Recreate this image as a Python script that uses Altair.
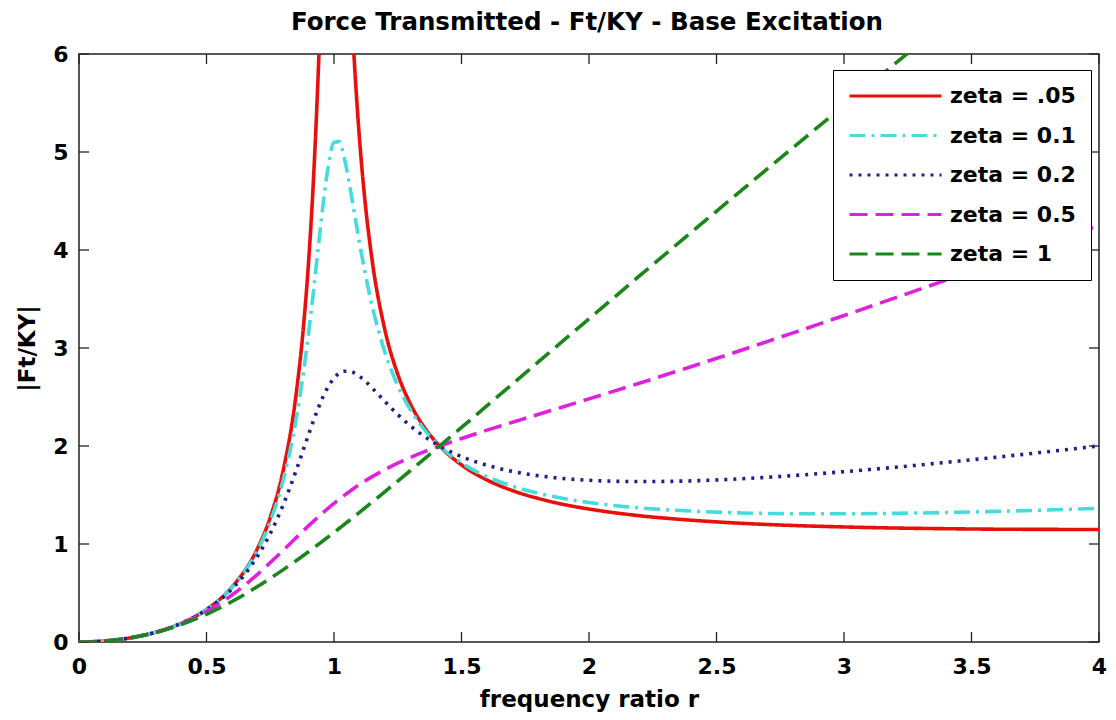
import altair as alt
import pandas as pd

# frequency ratio r (sample points)
R = [0, 0.1, 0.2, 0.3, 0.4, 0.5, 0.6, 0.7, 0.75, 0.8, 0.85, 0.88, 0.9, 0.92, 0.94,
     0.96, 0.98, 1.0, 1.02, 1.04, 1.06, 1.08, 1.1, 1.12, 1.15, 1.2, 1.25, 1.3, 1.35,
     1.4, 1.5, 1.6, 1.7, 1.8, 1.9, 2.0, 2.2, 2.4, 2.6, 2.8, 3.0, 3.2, 3.4, 3.6, 3.8, 4.0]

Z05 = [0, 0.010, 0.042, 0.099, 0.190, 0.333, 0.561, 0.954, 1.271, 1.741, 2.498, 3.210,
       3.868, 4.747, 5.932, 7.470, 9.130, 10.050, 9.533, 8.226, 6.939, 5.914, 5.135,
       4.541, 3.888, 3.180, 2.733, 2.427, 2.206, 2.040, 1.807, 1.653, 1.545, 1.465,
       1.404, 1.357, 1.288, 1.243, 1.211, 1.189, 1.174, 1.163, 1.156, 1.151, 1.149, 1.148]
Z10 = [0, 0.010, 0.042, 0.099, 0.190, 0.332, 0.557, 0.936, 1.230, 1.645, 2.252, 2.748,
       3.145, 3.591, 4.066, 4.525, 4.894, 5.099, 5.106, 4.944, 4.680, 4.376, 4.074,
       3.792, 3.426, 2.955, 2.616, 2.368, 2.181, 2.035, 1.827, 1.688, 1.590, 1.518,
       1.464, 1.423, 1.368, 1.336, 1.317, 1.309, 1.308, 1.313, 1.321, 1.333, 1.347, 1.364]
Z20 = [0, 0.010, 0.042, 0.099, 0.189, 0.328, 0.542, 0.875, 1.107, 1.395, 1.739, 1.964,
       2.115, 2.262, 2.398, 2.519, 2.618, 2.693, 2.741, 2.763, 2.763, 2.745, 2.711,
       2.668, 2.591, 2.453, 2.321, 2.205, 2.105, 2.021, 1.892, 1.803, 1.740, 1.697,
       1.668, 1.650, 1.637, 1.644, 1.666, 1.698, 1.738, 1.783, 1.833, 1.886, 1.942, 2.001]
Z50 = [0, 0.010, 0.042, 0.098, 0.185, 0.310, 0.479, 0.691, 0.810, 0.934, 1.060, 1.136,
       1.185, 1.233, 1.280, 1.326, 1.371, 1.414, 1.456, 1.496, 1.534, 1.571, 1.606,
       1.640, 1.687, 1.760, 1.825, 1.883, 1.937, 1.986, 2.077, 2.162, 2.242, 2.322,
       2.401, 2.481, 2.643, 2.809, 2.980, 3.154, 3.331, 3.511, 3.693, 3.877, 4.063, 4.250]
Z100 = [0, 0.010, 0.041, 0.096, 0.177, 0.283, 0.413, 0.566, 0.649, 0.736, 0.827, 0.883,
        0.921, 0.960, 0.999, 1.038, 1.078, 1.118, 1.158, 1.199, 1.240, 1.282, 1.323,
        1.365, 1.428, 1.534, 1.642, 1.750, 1.859, 1.969, 2.189, 2.411, 2.633, 2.855,
        3.077, 3.298, 3.740, 4.178, 4.613, 5.045, 5.474, 5.901, 6.326, 6.748, 7.169, 7.588]

SERIES = ["zeta = .05", "zeta = 0.1", "zeta = 0.2", "zeta = 0.5", "zeta = 1"]
VALUES = [Z05, Z10, Z20, Z50, Z100]
COLORS = ["#e8100a", "#45dcdc", "#20208c", "#e020e0", "#1b861b"]
DASHES = [[1, 0], [16, 6, 3, 6], [3, 6], [18, 8], [18, 8]]
XTICKS = [0, 0.5, 1, 1.5, 2, 2.5, 3, 3.5, 4]
YTICKS = [0, 1, 2, 3, 4, 5, 6]
TITLE = "Force Transmitted - Ft/KY - Base Excitation"

rows = []
for name, vals in zip(SERIES, VALUES):
    for r, t in zip(R, vals):
        rows.append({"r": r, "T": t, "zeta": name})
df = pd.DataFrame(rows)

W, H = 1020, 588
FONT = "DejaVu Sans"
TICK = "#222222"

xscale = alt.Scale(domain=[0, 4], nice=False, zero=False)
yscale = alt.Scale(domain=[0, 6], nice=False)
xaxis = alt.Axis(values=XTICKS, format="~g", grid=False, ticks=False, tickSize=0,
                 domain=False, labelPadding=14, labelFlush=False,
                 title="frequency ratio r", titlePadding=11,
                 labelFont=FONT, labelFontSize=22, labelFontWeight="bold", labelColor="black",
                 titleFont=FONT, titleFontSize=23, titleFontWeight="bold", titleColor="black")
yaxis = alt.Axis(values=YTICKS, format="d", grid=False, ticks=False, tickSize=0,
                 domain=False, labelPadding=11, labelFlush=False,
                 title="|Ft/KY|", titlePadding=13,
                 labelFont=FONT, labelFontSize=22, labelFontWeight="bold", labelColor="black",
                 titleFont=FONT, titleFontSize=23, titleFontWeight="bold", titleColor="black")
xenc = alt.X("r:Q", scale=xscale, axis=xaxis)
yenc = alt.Y("T:Q", scale=yscale, axis=yaxis)

legend = alt.Legend(title=None, orient="none", legendX=754, legendY=16,
                    symbolType="stroke", symbolSize=8464, symbolStrokeWidth=3,
                    labelFont=FONT, labelFontSize=22, labelFontWeight="bold",
                    labelColor="black", labelOffset=7, padding=15, rowPadding=17.5,
                    clipHeight=22, strokeColor="black", fillColor="white")

lines = alt.Chart(df).mark_line(clip=True, strokeWidth=3.6, interpolate="monotone").encode(
    x=xenc,
    y=yenc,
    color=alt.Color("zeta:N", scale=alt.Scale(domain=SERIES, range=COLORS), legend=legend),
    strokeDash=alt.StrokeDash("zeta:N", scale=alt.Scale(domain=SERIES, range=DASHES),
                              legend=legend),
)

xt = pd.DataFrame({"r": XTICKS})
yt = pd.DataFrame({"T": YTICKS})
tick_b = alt.Chart(xt).mark_rule(color=TICK, strokeWidth=1.3).encode(
    x=xenc, y=alt.value(H), y2=alt.value(H - 10))
tick_t = alt.Chart(xt).mark_rule(color=TICK, strokeWidth=1.3).encode(
    x=xenc, y=alt.value(0), y2=alt.value(10))
tick_l = alt.Chart(yt).mark_rule(color=TICK, strokeWidth=1.3).encode(
    y=yenc, x=alt.value(0), x2=alt.value(10))
tick_r = alt.Chart(yt).mark_rule(color=TICK, strokeWidth=1.3).encode(
    y=yenc, x=alt.value(W - 10), x2=alt.value(W))

title = alt.Chart(pd.DataFrame({"title": [TITLE]})).mark_text(
    font=FONT, fontSize=24.5, fontWeight="bold", color="black", align="center",
    baseline="alphabetic",
).encode(text="title:N", x=alt.value(W / 2 - 2), y=alt.value(-24))

chart = alt.layer(tick_b, tick_t, tick_l, tick_r, lines, title).properties(
    width=W,
    height=H,
    background="white",
    autosize=alt.AutoSizeParams(type="none"),
    padding={"left": 71, "top": 46, "right": 9, "bottom": 70},
).configure_view(stroke=TICK, strokeWidth=1.5)

chart.save("out.html", embed_options={"renderer": "svg", "actions": False})
